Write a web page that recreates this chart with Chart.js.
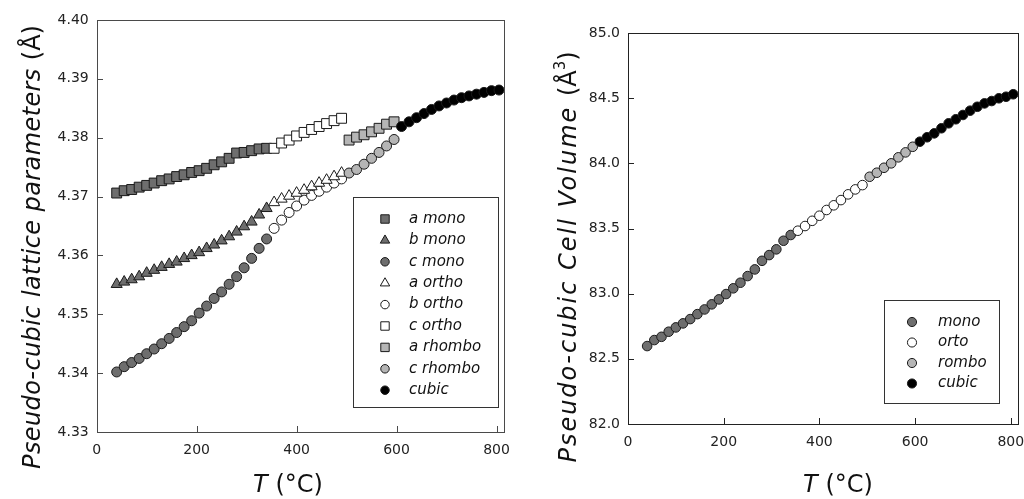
<!DOCTYPE html>
<html>
<head>
<meta charset="utf-8">
<script src="https://cdn.jsdelivr.net/npm/chart.js@4.4.1/dist/chart.umd.min.js"></script>
<style>
  html, body { margin: 0; padding: 0; background: #fff; }
  #wrap { position: relative; width: 1024px; height: 499px; overflow: hidden; }
  .panel { position: absolute; top: 0; width: 512px; height: 499px; }
</style>
</head>
<body>
<div id="wrap">
  <div class="panel" style="left:0"><canvas id="lattice" width="512" height="499"></canvas></div>
  <div class="panel" style="left:512px"><canvas id="volume" width="512" height="499"></canvas></div>
</div>
<script>
// Temperatures (°C) of each structural phase
const tMono   = [40, 55, 70, 85, 100, 115, 130, 145, 160, 175, 190, 205, 220, 235, 250, 265, 280, 295, 310, 325, 340];
const tOrtho  = [355, 370, 385, 400, 415, 430, 445, 460, 475, 490];
const tRhombo = [505, 520, 535, 550, 565, 580, 595];
const tCubic  = [610, 625, 640, 655, 670, 685, 700, 715, 730, 745, 760, 775, 790, 805];

// Pseudo-cubic lattice parameters (Å)
const aMono   = [4.3706, 4.3710, 4.3712, 4.3716, 4.3719, 4.3723, 4.3727, 4.3730, 4.3734, 4.3737, 4.3741, 4.3744, 4.3748, 4.3754, 4.3759, 4.3765, 4.3774, 4.3775, 4.3778, 4.3781, 4.3782];
const bMono   = [4.3551, 4.3555, 4.3559, 4.3564, 4.3570, 4.3575, 4.3580, 4.3585, 4.3589, 4.3595, 4.3600, 4.3605, 4.3612, 4.3618, 4.3625, 4.3632, 4.3640, 4.3649, 4.3657, 4.3669, 4.3680];
const cMono   = [4.3402, 4.3411, 4.3418, 4.3425, 4.3433, 4.3441, 4.3450, 4.3459, 4.3469, 4.3479, 4.3489, 4.3502, 4.3514, 4.3527, 4.3538, 4.3551, 4.3564, 4.3579, 4.3595, 4.3612, 4.3628];
const aOrtho  = [4.3690, 4.3696, 4.3701, 4.3706, 4.3711, 4.3717, 4.3723, 4.3728, 4.3734, 4.3740];
const bOrtho  = [4.3646, 4.3660, 4.3673, 4.3684, 4.3694, 4.3702, 4.3709, 4.3716, 4.3723, 4.3730];
const cOrtho  = [4.3782, 4.3791, 4.3796, 4.3803, 4.3809, 4.3814, 4.3819, 4.3824, 4.3829, 4.3833];
const aRhombo = [4.3796, 4.3801, 4.3805, 4.3810, 4.3816, 4.3823, 4.3827];
const cRhombo = [4.3740, 4.3746, 4.3755, 4.3765, 4.3775, 4.3786, 4.3797];
const aCubic  = [4.3819, 4.3827, 4.3834, 4.3841, 4.3848, 4.3854, 4.3859, 4.3864, 4.3868, 4.3871, 4.3874, 4.3877, 4.3880, 4.3881];

// Pseudo-cubic cell volume (Å³)
const volMono   = [82.598, 82.644, 82.669, 82.708, 82.741, 82.772, 82.805, 82.843, 82.879, 82.918, 82.956, 82.997, 83.041, 83.084, 83.135, 83.186, 83.252, 83.296, 83.340, 83.406, 83.450];
const volOrto   = [83.483, 83.519, 83.559, 83.598, 83.642, 83.678, 83.718, 83.762, 83.800, 83.833];
const volRombo  = [83.897, 83.928, 83.966, 84.000, 84.046, 84.084, 84.127];
const volCubic  = [84.166, 84.200, 84.230, 84.269, 84.307, 84.338, 84.371, 84.404, 84.434, 84.460, 84.478, 84.499, 84.511, 84.530];

// Axis ticks
const tempTicks    = [0, 200, 400, 600, 800];
const latticeTicks = [4.33, 4.34, 4.35, 4.36, 4.37, 4.38, 4.39, 4.40];
const volumeTicks  = [82.0, 82.5, 83.0, 83.5, 84.0, 84.5, 85.0];

const FONT = '"DejaVu Sans", sans-serif';
const DARK = '#6e6e6e';
const LIGHT = '#b5b5b5';
const WHITE = '#ffffff';
const BLACK = '#000000';
const EDGE = '#1a1a1a';

function series(label, xs, ys, style, fill, radius) {
  return {
    label,
    data: xs.map((t, i) => ({ x: t, y: ys[i] })),
    pointStyle: style,
    pointRadius: radius,
    pointHoverRadius: radius,
    pointBackgroundColor: fill,
    pointBorderColor: EDGE,
    pointBorderWidth: 1,
    backgroundColor: fill,
    borderColor: EDGE,
    showLine: false
  };
}

const SQ = 7.0, TR = 6.4, CI = 5.0;

const latticeSets = [
  series('cubic',    tCubic,  aCubic,  'circle',   BLACK, CI),
  series('a rhombo', tRhombo, aRhombo, 'rect',     LIGHT, SQ),
  series('c rhombo', tRhombo, cRhombo, 'circle',   LIGHT, CI),
  series('c ortho',  tOrtho,  cOrtho,  'rect',     WHITE, SQ),
  series('a ortho',  tOrtho,  aOrtho,  'triangle', WHITE, TR),
  series('b ortho',  tOrtho,  bOrtho,  'circle',   WHITE, CI),
  series('a mono',   tMono,   aMono,   'rect',     DARK,  SQ),
  series('b mono',   tMono,   bMono,   'triangle', DARK,  TR),
  series('c mono',   tMono,   cMono,   'circle',   DARK,  CI)
];

const volumeSets = [
  series('cubic', tCubic,  volCubic, 'circle', BLACK, 4.8),
  series('rombo', tRhombo, volRombo, 'circle', LIGHT, 4.8),
  series('orto',  tOrtho,  volOrto,  'circle', WHITE, 4.8),
  series('mono',  tMono,   volMono,  'circle', DARK,  4.8)
];

// Box around the plot area plus inward-pointing ticks
function framePlugin(color) {
  return {
    id: 'frame',
    beforeDatasetsDraw(chart) {
      const { ctx, chartArea: a, scales: { x, y } } = chart;
      ctx.save();
      ctx.strokeStyle = color;
      ctx.lineWidth = 1;
      ctx.strokeRect(Math.round(a.left) + 0.5, Math.round(a.top) + 0.5,
                     Math.round(a.right - a.left), Math.round(a.bottom - a.top));
      ctx.beginPath();
      x.ticks.forEach(t => {
        const px = Math.round(x.getPixelForValue(t.value)) + 0.5;
        ctx.moveTo(px, Math.round(a.bottom));
        ctx.lineTo(px, Math.round(a.bottom) - 6);
      });
      y.ticks.forEach(t => {
        const py = Math.round(y.getPixelForValue(t.value)) + 0.5;
        ctx.moveTo(Math.round(a.left), py);
        ctx.lineTo(Math.round(a.left) + 6, py);
      });
      ctx.stroke();
      ctx.restore();
    }
  };
}

function segFont(s) {
  return (s.italic ? 'italic ' : '') + s.size + 'px ' + FONT;
}

// Draws a run of text pieces (mixed italic / upright / superscript) centred on 0
function drawRun(ctx, segs) {
  let total = 0;
  segs.forEach(s => {
    ctx.font = segFont(s);
    ctx.letterSpacing = (s.spacing || 0) + 'px';
    s.w = ctx.measureText(s.text).width;
    total += s.w;
  });
  let cx = -total / 2;
  ctx.textAlign = 'left';
  ctx.textBaseline = 'alphabetic';
  segs.forEach(s => {
    ctx.font = segFont(s);
    ctx.letterSpacing = (s.spacing || 0) + 'px';
    ctx.fillText(s.text, cx, s.rise || 0);
    cx += s.w;
  });
  ctx.letterSpacing = '0px';
}

function titlesPlugin(cfg) {
  return {
    id: 'titles',
    afterDraw(chart) {
      const ctx = chart.ctx;
      ctx.save();
      ctx.fillStyle = '#111';
      ctx.translate(cfg.yx, cfg.yy);
      ctx.rotate(-Math.PI / 2);
      drawRun(ctx, cfg.ySegs);
      ctx.restore();
      ctx.save();
      ctx.fillStyle = '#111';
      ctx.translate(cfg.xx, cfg.xy);
      drawRun(ctx, cfg.xSegs);
      ctx.restore();
    }
  };
}

// Legend panel drawn inside the plot
function keyPlugin(cfg) {
  return {
    id: 'phaseKey',
    afterDraw(chart) {
      const ctx = chart.ctx;
      ctx.save();
      ctx.strokeStyle = '#333';
      ctx.lineWidth = 1;
      ctx.fillStyle = '#fff';
      const [x1, y1, x2, y2] = cfg.box;
      ctx.fillRect(x1, y1, x2 - x1, y2 - y1);
      ctx.strokeRect(x1 + 0.5, y1 + 0.5, x2 - x1, y2 - y1);
      cfg.order.forEach((label, i) => {
        const ds = chart.data.datasets.find(d => d.label === label);
        const yy = cfg.y0 + i * cfg.gap;
        ctx.fillStyle = ds.pointBackgroundColor;
        ctx.strokeStyle = EDGE;
        ctx.lineWidth = 1;
        Chart.helpers.drawPoint(ctx, {
          pointStyle: ds.pointStyle,
          radius: ds.pointRadius * cfg.scale,
          rotation: 0,
          borderWidth: 1
        }, cfg.mx, yy);
        ctx.fillStyle = '#111';
        ctx.font = 'italic 15px ' + FONT;
        ctx.textAlign = 'left';
        ctx.textBaseline = 'middle';
        ctx.fillText(label, cfg.tx, yy);
      });
      ctx.restore();
    }
  };
}

function axisScale(min, max, ticks, fmt, fitSize, horizontal, pad) {
  return {
    type: 'linear',
    min, max,
    grid: { display: false, drawTicks: false },
    border: { display: false },
    afterBuildTicks(s) { s.ticks = ticks.map(v => ({ value: v })); },
    ticks: {
      color: '#222',
      font: { family: FONT, size: 14 },
      padding: pad,
      autoSkip: false,
      maxRotation: 0,
      callback: fmt
    },
    afterFit(s) {
      if (horizontal) s.height = fitSize; else s.width = fitSize;
      s.paddingLeft = 0; s.paddingRight = 0; s.paddingTop = 0; s.paddingBottom = 0;
    }
  };
}

new Chart(document.getElementById('lattice'), {
  type: 'scatter',
  data: { datasets: latticeSets },
  options: {
    responsive: false,
    animation: false,
    devicePixelRatio: 1,
    layout: { padding: { left: 0, right: 5, top: 20, bottom: 0 } },
    plugins: { legend: { display: false }, tooltip: { enabled: false } },
    scales: {
      x: axisScale(0, 815, tempTicks, v => String(v), 67, true, 10),
      y: axisScale(4.33, 4.40, latticeTicks, v => v.toFixed(2), 96.7, false, 8)
    }
  },
  plugins: [
    framePlugin('#4a4a4a'),
    titlesPlugin({
      yx: 40, yy: 247,
      ySegs: [
        { text: 'Pseudo-cubic lattice parameters ', italic: true, size: 24, spacing: 0.4 },
        { text: '(Å)', italic: false, size: 24 }
      ],
      xx: 288, xy: 492,
      xSegs: [
        { text: 'T', italic: true, size: 24 },
        { text: ' (°C)', italic: false, size: 24 }
      ]
    }),
    keyPlugin({
      box: [353, 197, 498, 407],
      order: ['a mono', 'b mono', 'c mono', 'a ortho', 'b ortho', 'c ortho', 'a rhombo', 'c rhombo', 'cubic'],
      y0: 219, gap: 21.4, mx: 385, tx: 409, scale: 0.85
    })
  ]
});

new Chart(document.getElementById('volume'), {
  type: 'scatter',
  data: { datasets: volumeSets },
  options: {
    responsive: false,
    animation: false,
    devicePixelRatio: 1,
    layout: { padding: { left: 0, right: 6, top: 33, bottom: 0 } },
    plugins: { legend: { display: false }, tooltip: { enabled: false } },
    scales: {
      x: axisScale(0, 815, tempTicks, v => String(v), 75, true, 10),
      y: axisScale(82.0, 85.0, volumeTicks, v => v.toFixed(1), 116, false, 8)
    }
  },
  plugins: [
    framePlugin('#222'),
    titlesPlugin({
      yx: 64, yy: 257,
      ySegs: [
        { text: 'Pseudo-cubic Cell Volume ', italic: true, size: 24, spacing: 2 },
        { text: '(Å', italic: false, size: 24 },
        { text: '3', italic: false, size: 15, rise: -11 },
        { text: ')', italic: false, size: 24 }
      ],
      xx: 326, xy: 492,
      xSegs: [
        { text: 'T', italic: true, size: 24 },
        { text: ' (°C)', italic: false, size: 24 }
      ]
    }),
    keyPlugin({
      box: [372, 300, 487, 403],
      order: ['mono', 'orto', 'rombo', 'cubic'],
      y0: 322, gap: 20.5, mx: 400, tx: 426, scale: 0.95
    })
  ]
});
</script>
</body>
</html>
